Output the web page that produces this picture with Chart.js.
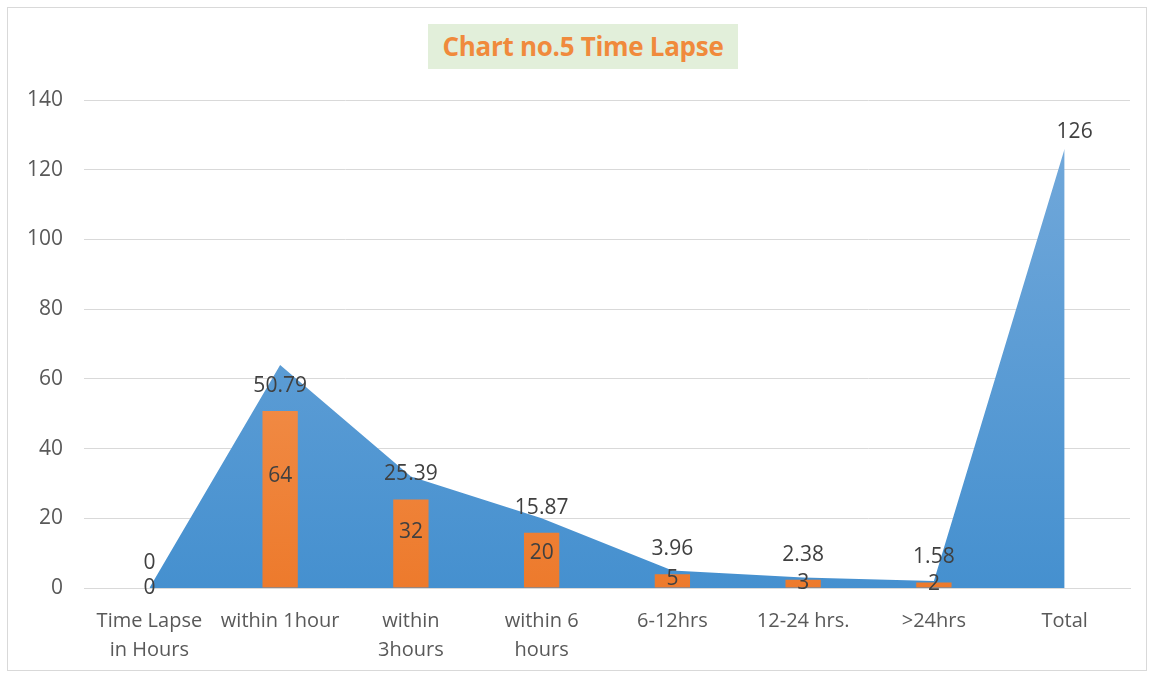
<!DOCTYPE html>
<html>
<head>
<meta charset="utf-8">
<script src="https://cdn.jsdelivr.net/npm/chart.js@4.4.1/dist/chart.umd.min.js"></script>
<style>
    body { margin: 0; background: #fff; }
    #wrap { position: relative; width: 1152px; height: 677px; }
    #frame { position: absolute; left: 7px; top: 7px; width: 1138px; height: 662px; border: 1px solid #d9d9d9; }
    #title {
        position: absolute; left: 428px; top: 24px; width: 310px; height: 45px;
        background: #e2efda; color: #f08a3c; font: bold 26px "Open Sans", sans-serif;
        line-height: 45px; text-align: center; letter-spacing: -0.3px;
    }
    canvas { position: absolute; left: 0; top: 0; }
</style>
</head>
<body>
<div id="wrap">
    <div id="frame"></div>
    <canvas id="chart" width="1152" height="677"></canvas>
    <div id="title">Chart no.5 Time Lapse</div>
</div>
<script>
const categories = [['Time Lapse', 'in Hours'], 'within 1hour', ['within', '3hours'], ['within 6', 'hours'], '6-12hrs', '12-24 hrs.', '>24hrs', 'Total'];
const counts = [0, 64, 32, 20, 5, 3, 2, 126];
const percents = [0, 50.79, 25.39, 15.87, 3.96, 2.38, 1.58, null];
const yTicks = [0, 20, 40, 60, 80, 100, 120, 140];

const labelFont = '21px "Open Sans", sans-serif';

// draws the value labels the way the spreadsheet did
const valueLabels = {
    id: 'valueLabels',
    afterDatasetsDraw(chart) {
        const ctx = chart.ctx;
        const y = chart.scales.y;
        ctx.save();
        ctx.font = labelFont;
        ctx.fillStyle = '#404040';
        ctx.textAlign = 'center';
        ctx.textBaseline = 'middle';
        chart.getDatasetMeta(1).data.forEach((bar, i) => {
            if (percents[i] === null) return;
            ctx.fillText(String(percents[i]), bar.x, bar.y - 25);
        });
        chart.getDatasetMeta(0).data.forEach((pt, i) => {
            if (i === counts.length - 1) {
                ctx.fillText(String(counts[i]), pt.x + 10, pt.y - 17);
            } else {
                ctx.fillText(String(counts[i]), pt.x, y.getPixelForValue(counts[i] / 2));
            }
        });
        ctx.restore();
    }
};

function vGradient(context, top, bottom) {
    const area = context.chart.chartArea;
    if (!area) return bottom;
    const g = context.chart.ctx.createLinearGradient(0, area.top, 0, area.bottom);
    g.addColorStop(0, top);
    g.addColorStop(1, bottom);
    return g;
}

new Chart(document.getElementById('chart'), {
    data: {
        labels: categories,
        datasets: [{
            type: 'line',
            data: counts,
            fill: 'origin',
            tension: 0,
            borderWidth: 0,
            pointRadius: 0,
            order: 2,
            backgroundColor: ctx => vGradient(ctx, '#75aadb', '#4590cf')
        }, {
            type: 'bar',
            data: percents,
            order: 1,
            barPercentage: 0.27,
            categoryPercentage: 1,
            backgroundColor: ctx => vGradient(ctx, '#f6a36a', '#ed7a2c')
        }]
    },
    options: {
        responsive: false,
        animation: false,
        layout: { padding: { left: 6, right: 22, top: 100, bottom: 1 } },
        plugins: { legend: { display: false }, tooltip: { enabled: false } },
        scales: {
            x: {
                offset: true,
                grid: { display: false },
                border: { color: '#d9d9d9' },
                ticks: { color: '#595959', font: { size: 20, family: '"Open Sans", sans-serif', lineHeight: 1.45 }, maxRotation: 0, padding: 11 }
            },
            y: {
                min: 0,
                max: 140,
                afterBuildTicks: axis => { axis.ticks = yTicks.map(v => ({ value: v })); },
                grid: { color: '#d9d9d9', drawTicks: false },
                border: { display: false },
                ticks: { color: '#595959', font: { size: 21, family: '"Open Sans", sans-serif' }, padding: 21 }
            }
        }
    },
    plugins: [valueLabels]
});
</script>
</body>
</html>
